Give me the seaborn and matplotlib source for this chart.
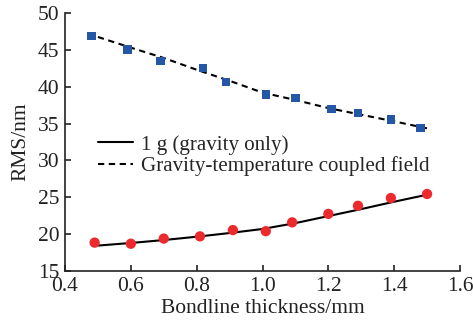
import matplotlib
matplotlib.use("Agg")
import matplotlib.pyplot as plt
import seaborn as sns
import pandas as pd

# Data
thick_pts = [0.49, 0.60, 0.70, 0.81, 0.91, 1.01, 1.09, 1.20, 1.29, 1.39, 1.50]
gravity_pts = [18.85, 18.7, 19.4, 19.7, 20.55, 20.4, 21.6, 22.75, 23.85, 24.9, 25.45]
thick_sq = [0.48, 0.59, 0.69, 0.82, 0.89, 1.01, 1.10, 1.21, 1.29, 1.39, 1.48]
coupled_pts = [46.9, 45.05, 43.5, 42.5, 40.6, 38.95, 38.5, 36.95, 36.45, 35.55, 34.4]

line_x = [0.5, 0.6, 0.7, 0.8, 0.9, 1.0, 1.1, 1.2, 1.3, 1.4, 1.5]
gravity_line = [18.45, 18.8, 19.2, 19.65, 20.15, 20.7, 21.5, 22.45, 23.4, 24.4, 25.35]
coupled_line = [46.75, 45.3, 43.9, 42.3, 40.8, 39.2, 38.2, 37.1, 36.2, 35.3, 34.35]

labels = ["1 g (gravity only)", "Gravity-temperature coupled field"]

sns.set_style("ticks")
plt.rcParams['font.family'] = ['Liberation Serif', 'DejaVu Serif']
plt.rcParams['mathtext.fontset'] = 'stix'

fs = 15.5
fig = plt.figure(figsize=(4.73, 3.29), dpi=100)
ax = fig.add_axes([65/473, 1-271/329, (460-65)/473, (271-13)/329])

df_line = pd.DataFrame({"x": line_x, "g": gravity_line, "c": coupled_line})
sns.lineplot(data=df_line, x="x", y="g", ax=ax, color="black", lw=1.5, label=labels[0])
sns.lineplot(data=df_line, x="x", y="c", ax=ax, color="black", lw=1.5,
             linestyle=(0, (3.0, 2.2)), label=labels[1])

sns.scatterplot(x=thick_pts, y=gravity_pts, ax=ax, color="#ec2a2e", marker="o",
                s=55, edgecolor="none", zorder=3)
sns.scatterplot(x=thick_sq, y=coupled_pts, ax=ax, color="#2557a7", marker="s",
                s=36, edgecolor="none", zorder=3)

ax.set_xlim(0.4, 1.6)
ax.set_ylim(15, 50)
ax.set_xticks([0.4, 0.6, 0.8, 1.0, 1.2, 1.4, 1.6])
ax.set_xticklabels(["0.4", "0.6", "0.8", "1.0", "1.2", "1.4", "1.6"])
ax.set_yticks([15, 20, 25, 30, 35, 40, 45, 50])
ax.tick_params(direction="in", length=4, width=1.2, labelsize=fs, colors="#222222")
ax.tick_params(axis="x", pad=4.5)
ax.tick_params(axis="y", pad=4)
for s in ["top", "right"]:
    ax.spines[s].set_visible(False)
for s in ["left", "bottom"]:
    ax.spines[s].set_linewidth(1.2)
    ax.spines[s].set_color("#222222")

ax.set_xlabel("Bondline thickness/mm", fontsize=fs, color="#222222", labelpad=2)
ax.set_ylabel("RMS/nm", fontsize=fs, color="#222222", labelpad=5)

leg = ax.legend(loc="upper left", bbox_to_anchor=(0.063, 0.56), frameon=False,
                fontsize=15.1, handlelength=1.65, handletextpad=0.4, labelspacing=0.08,
                borderaxespad=0)

fig.savefig("out.png", dpi=100)
